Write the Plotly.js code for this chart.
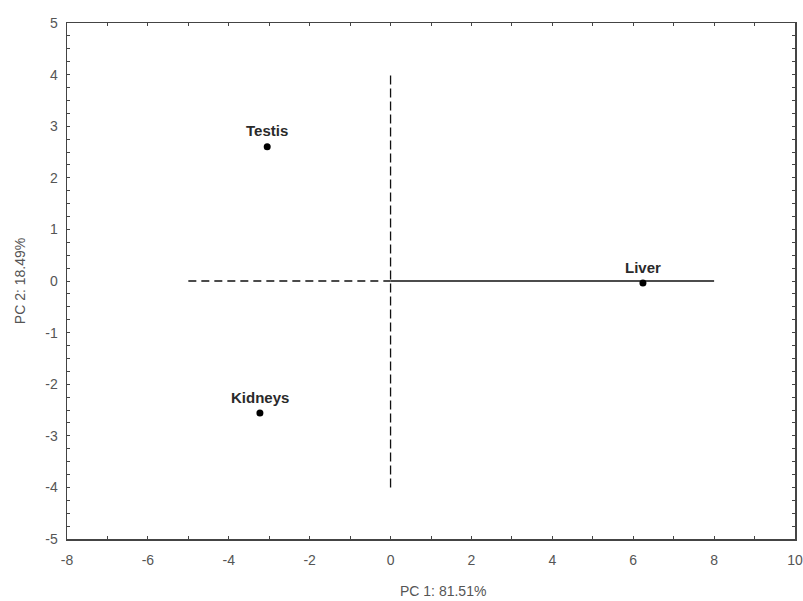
<!DOCTYPE html>
<html>
<head>
<meta charset="utf-8">
<script src="https://cdn.plot.ly/plotly-3.0.1.min.js"></script>
<style>html,body{margin:0;padding:0;background:#fff;}#chart{width:803px;height:601px;}</style>
</head>
<body>
<div id="chart"></div>
<script>
// Data
const tissues = ["Testis", "Liver", "Kidneys"];
const pc1 = [-3.05, 6.24, -3.23];
const pc2 = [2.60, -0.04, -2.56];

// Reference (origin) lines
const hDashX = [-5, 0];
const hDashY = [0, 0];
const hSolidX = [0, 8];
const hSolidY = [0, 0];
const vDashX = [0, 0];
const vDashY = [-4, 4];

const xTicks = [-8, -6, -4, -2, 0, 2, 4, 6, 8, 10];
const xTickText = ["-8", "-6", "-4", "-2", "0", "2", "4", "6", "8", "10"];
const yTicks = [-5, -4, -3, -2, -1, 0, 1, 2, 3, 4, 5];
const yTickText = ["-5", "-4", "-3", "-2", "-1", "0", "1", "2", "3", "4", "5"];

const xTitle = "PC 1: 81.51%";
const yTitle = "PC 2: 18.49%";

const lineStyle = {color: "#111", width: 1.3};
const FONT = "Liberation Sans, Arial, sans-serif";

const traces = [
  {x: hDashX, y: hDashY, mode: "lines", line: Object.assign({dash: "8px,5px"}, lineStyle), hoverinfo: "skip"},
  {x: hSolidX, y: hSolidY, mode: "lines", line: lineStyle, hoverinfo: "skip"},
  {x: vDashX, y: vDashY, mode: "lines", line: Object.assign({dash: "9px,4px"}, lineStyle), hoverinfo: "skip"},
  {x: pc1, y: pc2, mode: "markers", marker: {color: "#000", size: 7}, text: tissues}
];

const annotations = tissues.map((t, i) => ({
  x: pc1[i], y: pc2[i], xref: "x", yref: "y",
  text: "<b>" + t + "</b>", showarrow: false,
  yshift: 16, xshift: [0, 0, 0][i],
  font: {family: FONT, size: 15, color: "#2a2a2a"}
}));
annotations.push({
  xref: "paper", yref: "paper", x: 0.5165, y: 0, yshift: -52,
  text: xTitle, showarrow: false, yanchor: "middle",
  font: {family: FONT, size: 14, color: "#555"}
});

const axisCommon = {
  showgrid: false, zeroline: false, showline: true, linecolor: "#444", linewidth: 1.5,
  mirror: "allticks", ticks: "inside", ticklen: 3, tickcolor: "#444", tickwidth: 1,
  tickfont: {family: FONT, size: 14, color: "#555"}
};

const layout = {
  width: 803, height: 601,
  margin: {l: 67, r: 8, t: 23, b: 62},
  paper_bgcolor: "#fff", plot_bgcolor: "#fff",
  showlegend: false,
  xaxis: Object.assign({}, axisCommon, {
    range: [-8, 10], tickmode: "array", tickvals: xTicks, ticktext: xTickText,
    ticklabelstandoff: 8,
    minor: {dtick: 1, ticks: "inside", ticklen: 3, tickcolor: "#444"}
  }),
  yaxis: Object.assign({}, axisCommon, {
    range: [-5, 5], tickmode: "array", tickvals: yTicks, ticktext: yTickText,
    ticklabelstandoff: 5,
    minor: {dtick: 0.25, ticks: "inside", ticklen: 3, tickcolor: "#444"},
    title: {text: yTitle, standoff: 16, font: {family: FONT, size: 14, color: "#555"}}
  }),
  annotations: annotations
};

Plotly.newPlot("chart", traces, layout, {displayModeBar: false, staticPlot: true});
</script>
</body>
</html>
